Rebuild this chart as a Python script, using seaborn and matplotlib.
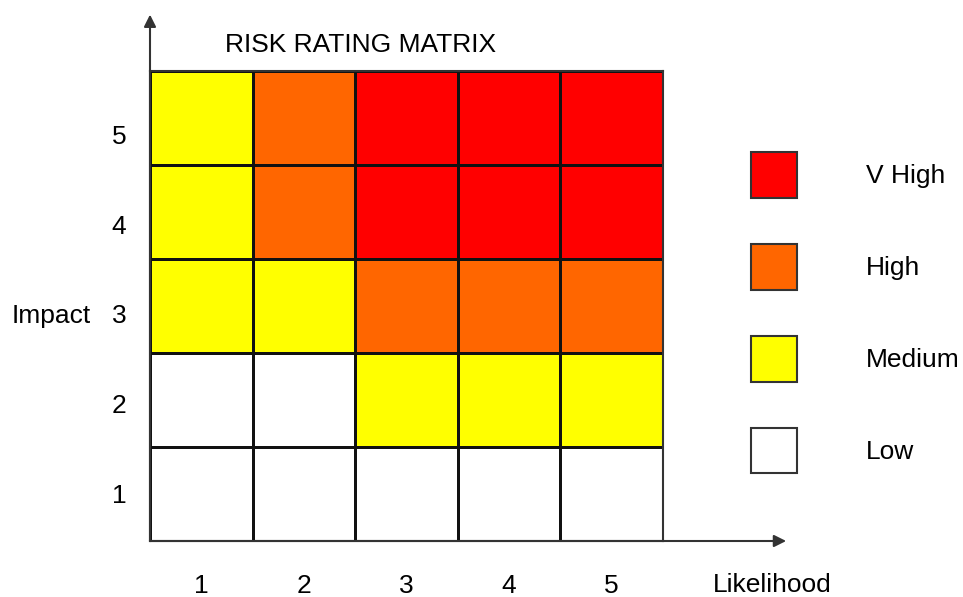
import numpy as np
import pandas as pd
import seaborn as sns
import matplotlib.pyplot as plt
from matplotlib.colors import ListedColormap
from matplotlib.patches import Patch

# risk levels: 0 = Low, 1 = Medium, 2 = High, 3 = V High
likelihood = [1, 2, 3, 4, 5]
impact = [5, 4, 3, 2, 1]
levels = [
    [1, 2, 3, 3, 3],   # impact 5
    [1, 2, 3, 3, 3],   # impact 4
    [1, 1, 2, 2, 2],   # impact 3
    [0, 0, 1, 1, 1],   # impact 2
    [0, 0, 0, 0, 0],   # impact 1
]
level_names = ['Low', 'Medium', 'High', 'V High']
level_colors = ['#FFFFFF', '#FFFF00', '#FF6600', '#FF0000']

df = pd.DataFrame(levels, index=impact, columns=likelihood)

sns.set_style('white', rc={'text.color': 'black', 'xtick.color': 'black',
                           'ytick.color': 'black'})
plt.rcParams['font.family'] = ['Liberation Sans', 'DejaVu Sans']
FS = 19

fig = plt.figure(figsize=(9.63, 5.97), dpi=100)
W, H = 963, 597
ax = fig.add_axes([150 / W, (H - 541) / H, 513 / W, 470 / H])

sns.heatmap(df, ax=ax, cmap=ListedColormap(level_colors), vmin=-0.5, vmax=3.5,
            cbar=False, linewidths=0.8, linecolor='#111111', square=False)

for s in ax.spines.values():
    s.set_visible(True)
    s.set_color('#333333')
    s.set_linewidth(1.5)

ax.tick_params(axis='both', length=0, labelsize=FS, labelcolor='black')
ax.tick_params(axis='x', pad=24)
ax.tick_params(axis='y', pad=17)
# impact labels sit a little below the row centres in the original
ax.set_yticks(np.arange(len(impact)) + 0.5 + np.linspace(0.2, 0.02, len(impact)))
ax.set_yticklabels(impact, rotation=0)
ax.set_xlabel('')
ax.set_ylabel('')

# axis arrows
ax.annotate('', xy=(0, 1.12), xytext=(0, 0), xycoords='axes fraction',
            arrowprops=dict(arrowstyle='-|>', color='#333333', lw=1.5,
                            mutation_scale=18, shrinkA=0, shrinkB=0),
            annotation_clip=False)
ax.annotate('', xy=(1.24, 0), xytext=(0, 0), xycoords='axes fraction',
            arrowprops=dict(arrowstyle='-|>', color='#333333', lw=1.5,
                            mutation_scale=18, shrinkA=0, shrinkB=0),
            annotation_clip=False)

fig.text(361 / W, 1 - 45 / H, 'RISK RATING MATRIX', ha='center', va='center',
         fontsize=FS, color='black')
fig.text(12 / W, 1 - 316 / H, 'Impact', ha='left', va='center', fontsize=FS, color='black')
fig.text(713 / W, 1 - 585 / H, 'Likelihood', ha='left', va='center', fontsize=FS, color='black')

handles = [Patch(facecolor=c, edgecolor='#333333', linewidth=1.5) for c in level_colors[::-1]]
fig.legend(handles, level_names[::-1], loc='upper left',
           bbox_to_anchor=(751 / W, 1 - 152 / H), frameon=False, fontsize=FS,
           handlelength=1.74, handleheight=2.3, handletextpad=2.6,
           labelspacing=1.74, borderpad=0, borderaxespad=0, labelcolor='black')

fig.savefig('out.png', dpi=100, facecolor='white')
